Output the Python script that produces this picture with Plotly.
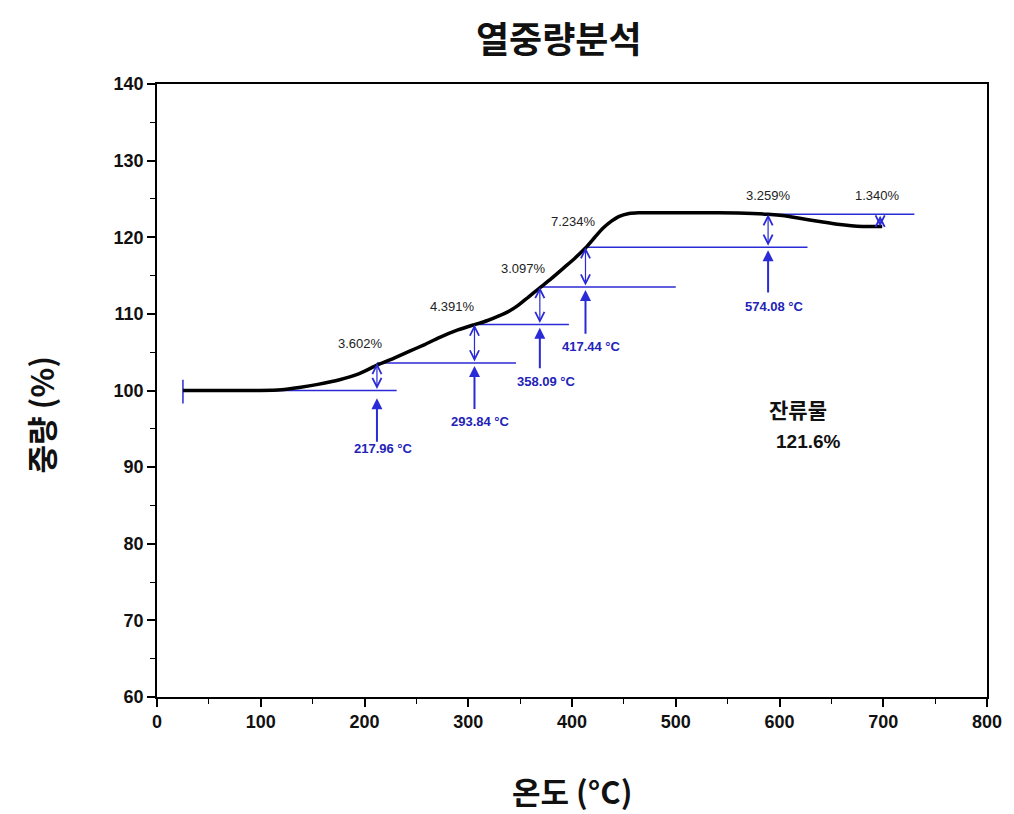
import plotly.graph_objects as go

# ---- data ----
temperature = [25, 60, 99, 120, 137, 155, 176, 195, 212, 228, 243, 258, 272, 290, 306, 318, 329, 340, 348, 358, 369, 380, 392, 403, 413, 422, 430, 438, 445, 455, 464, 490, 521, 560, 589, 605, 618, 637, 656, 680, 699]
weight = [100.0, 100.0, 100.0, 100.1, 100.4, 100.8, 101.4, 102.2, 103.3, 104.2, 105.1, 106.0, 106.9, 107.9, 108.6, 109.1, 109.7, 110.4, 111.1, 112.2, 113.4, 114.6, 116.0, 117.3, 118.6, 120.0, 121.2, 122.1, 122.7, 123.1, 123.2, 123.2, 123.2, 123.15, 123.0, 122.8, 122.5, 122.1, 121.7, 121.4, 121.4]

onset_labels = ["217.96 °C", "293.84 °C", "358.09 °C", "417.44 °C", "574.08 °C"]
step_pct = ["3.602%", "4.391%", "3.097%", "7.234%", "3.259%"]
final_pct = "1.340%"
residue_label = "잔류물"
residue_value = "121.6%"

step_x = [212, 306, 369, 413, 589]           # where each step is marked
levels = [100.0, 103.6, 108.6, 113.5, 118.7, 123.0]
level_start = [25, 212, 306, 369, 413, 589]
level_end = [231, 346, 397, 500, 627, 730]
arrow_head_y = [99.0, 103.2, 108.2, 113.1, 118.3]
arrow_tail_y = [93.1, 97.4, 102.7, 107.2, 112.6]
onset_label_y = [92.4, 96.0, 101.2, 105.8, 111.0]
pct_label_x = [196, 285, 353, 401, 589]
pct_label_y = [106.1, 111.0, 115.9, 122.1, 125.5]
end_x = 697
end_level = 121.4

x_ticks = [0, 100, 200, 300, 400, 500, 600, 700, 800]
y_ticks = [60, 70, 80, 90, 100, 110, 120, 130, 140]

BLUE = "#2a2ad6"
BLUE_TXT = "#2323b8"
NUM_FONT = "Liberation Sans, Arial, sans-serif"
KR_FONT = "Noto Sans CJK KR, sans-serif"

fig = go.Figure()

# blue reference level lines
for xs, xe, lv in zip(level_start, level_end, levels):
    fig.add_trace(go.Scatter(x=[xs, xe], y=[lv, lv], mode="lines",
                             line=dict(color=BLUE, width=1.5), hoverinfo="skip", showlegend=False))
# start marker
fig.add_trace(go.Scatter(x=[level_start[0], level_start[0]], y=[98.3, 101.4], mode="lines",
                         line=dict(color=BLUE, width=1.5), hoverinfo="skip", showlegend=False))

# TGA curve
fig.add_trace(go.Scatter(x=temperature, y=weight, mode="lines",
                         line=dict(color="black", width=3.5, shape="spline", smoothing=0.6),
                         hoverinfo="skip", showlegend=False))

ann = []
for i, sx in enumerate(step_x):
    lo, hi = levels[i], levels[i + 1]
    # double arrow between levels
    ann.append(dict(x=sx, y=hi, ax=sx, ay=lo, xref="x", yref="y", axref="x", ayref="y",
                    showarrow=True, arrowhead=5, arrowside="end+start", arrowsize=1.5,
                    arrowwidth=1.2, arrowcolor=BLUE, text=""))
    # solid up arrow
    ann.append(dict(x=sx, y=arrow_head_y[i], ax=sx, ay=arrow_tail_y[i], xref="x", yref="y",
                    axref="x", ayref="y", showarrow=True, arrowhead=2, arrowsize=1.1,
                    arrowwidth=2, arrowcolor=BLUE, text=""))
    ann.append(dict(x=sx + 6, y=onset_label_y[i], xref="x", yref="y", text=onset_labels[i],
                    showarrow=False, font=dict(family=NUM_FONT, size=13, color=BLUE_TXT, weight="bold")))
    ann.append(dict(x=pct_label_x[i], y=pct_label_y[i], xref="x", yref="y", text=step_pct[i],
                    showarrow=False, font=dict(family=NUM_FONT, size=13, color="#222222")))

ann.append(dict(x=end_x, y=end_level, ax=end_x, ay=levels[-1], xref="x", yref="y", axref="x", ayref="y",
                showarrow=True, arrowhead=5, arrowside="end+start", arrowsize=1.5,
                arrowwidth=1.2, arrowcolor=BLUE, text=""))
ann.append(dict(x=694, y=125.5, xref="x", yref="y", text=final_pct, showarrow=False,
                font=dict(family=NUM_FONT, size=13, color="#222222")))

ann.append(dict(x=618, y=97.6, xref="x", yref="y", text=residue_label, showarrow=False,
                font=dict(family=KR_FONT, size=21, color="#111111", weight="bold")))
ann.append(dict(x=628, y=93.4, xref="x", yref="y", text=residue_value, showarrow=False,
                font=dict(family=NUM_FONT, size=19, color="#111111", weight="bold")))

# axis titles
ann.append(dict(x=0.5, y=-0.152, xref="paper", yref="paper", text="온도 (°C)", showarrow=False,
                xanchor="center", yanchor="middle",
                font=dict(family=KR_FONT, size=31, color="#111111", weight="bold")))
ann.append(dict(x=-0.1405, y=0.46, xref="paper", yref="paper", text="중량 (%)", showarrow=False,
                textangle=-90, xanchor="center", yanchor="middle",
                font=dict(family=KR_FONT, size=31, color="#111111", weight="bold")))
ann.append(dict(x=0.484, y=1.077, xref="paper", yref="paper", text="열중량분석", showarrow=False,
                xanchor="center", yanchor="middle",
                font=dict(family=KR_FONT, size=36, color="#111111", weight="bold")))

axis_common = dict(showgrid=False, zeroline=False, showline=True, linecolor="black", linewidth=1.5,
                   mirror=True, ticks="outside", ticklen=8, tickwidth=1.5, tickcolor="black",
                   tickfont=dict(family=NUM_FONT, size=18, color="#111111", weight="bold"))

fig.update_xaxes(range=[0, 800], tickvals=x_ticks, minor=dict(dtick=50, ticks="outside", ticklen=5,
                 tickwidth=1.2, tickcolor="black"), **axis_common)
fig.update_yaxes(range=[60, 140], tickvals=y_ticks, minor=dict(dtick=5, ticks="outside", ticklen=5,
                 tickwidth=1.2, tickcolor="black"), **axis_common)

fig.update_layout(width=1014, height=814, margin=dict(l=157, r=24, t=84, b=117),
                  plot_bgcolor="white", paper_bgcolor="white", annotations=ann, showlegend=False)

fig.write_html("out.html", config={"displayModeBar": False},
               post_script="document.body.style.margin='0';document.body.style.overflow='hidden';")
